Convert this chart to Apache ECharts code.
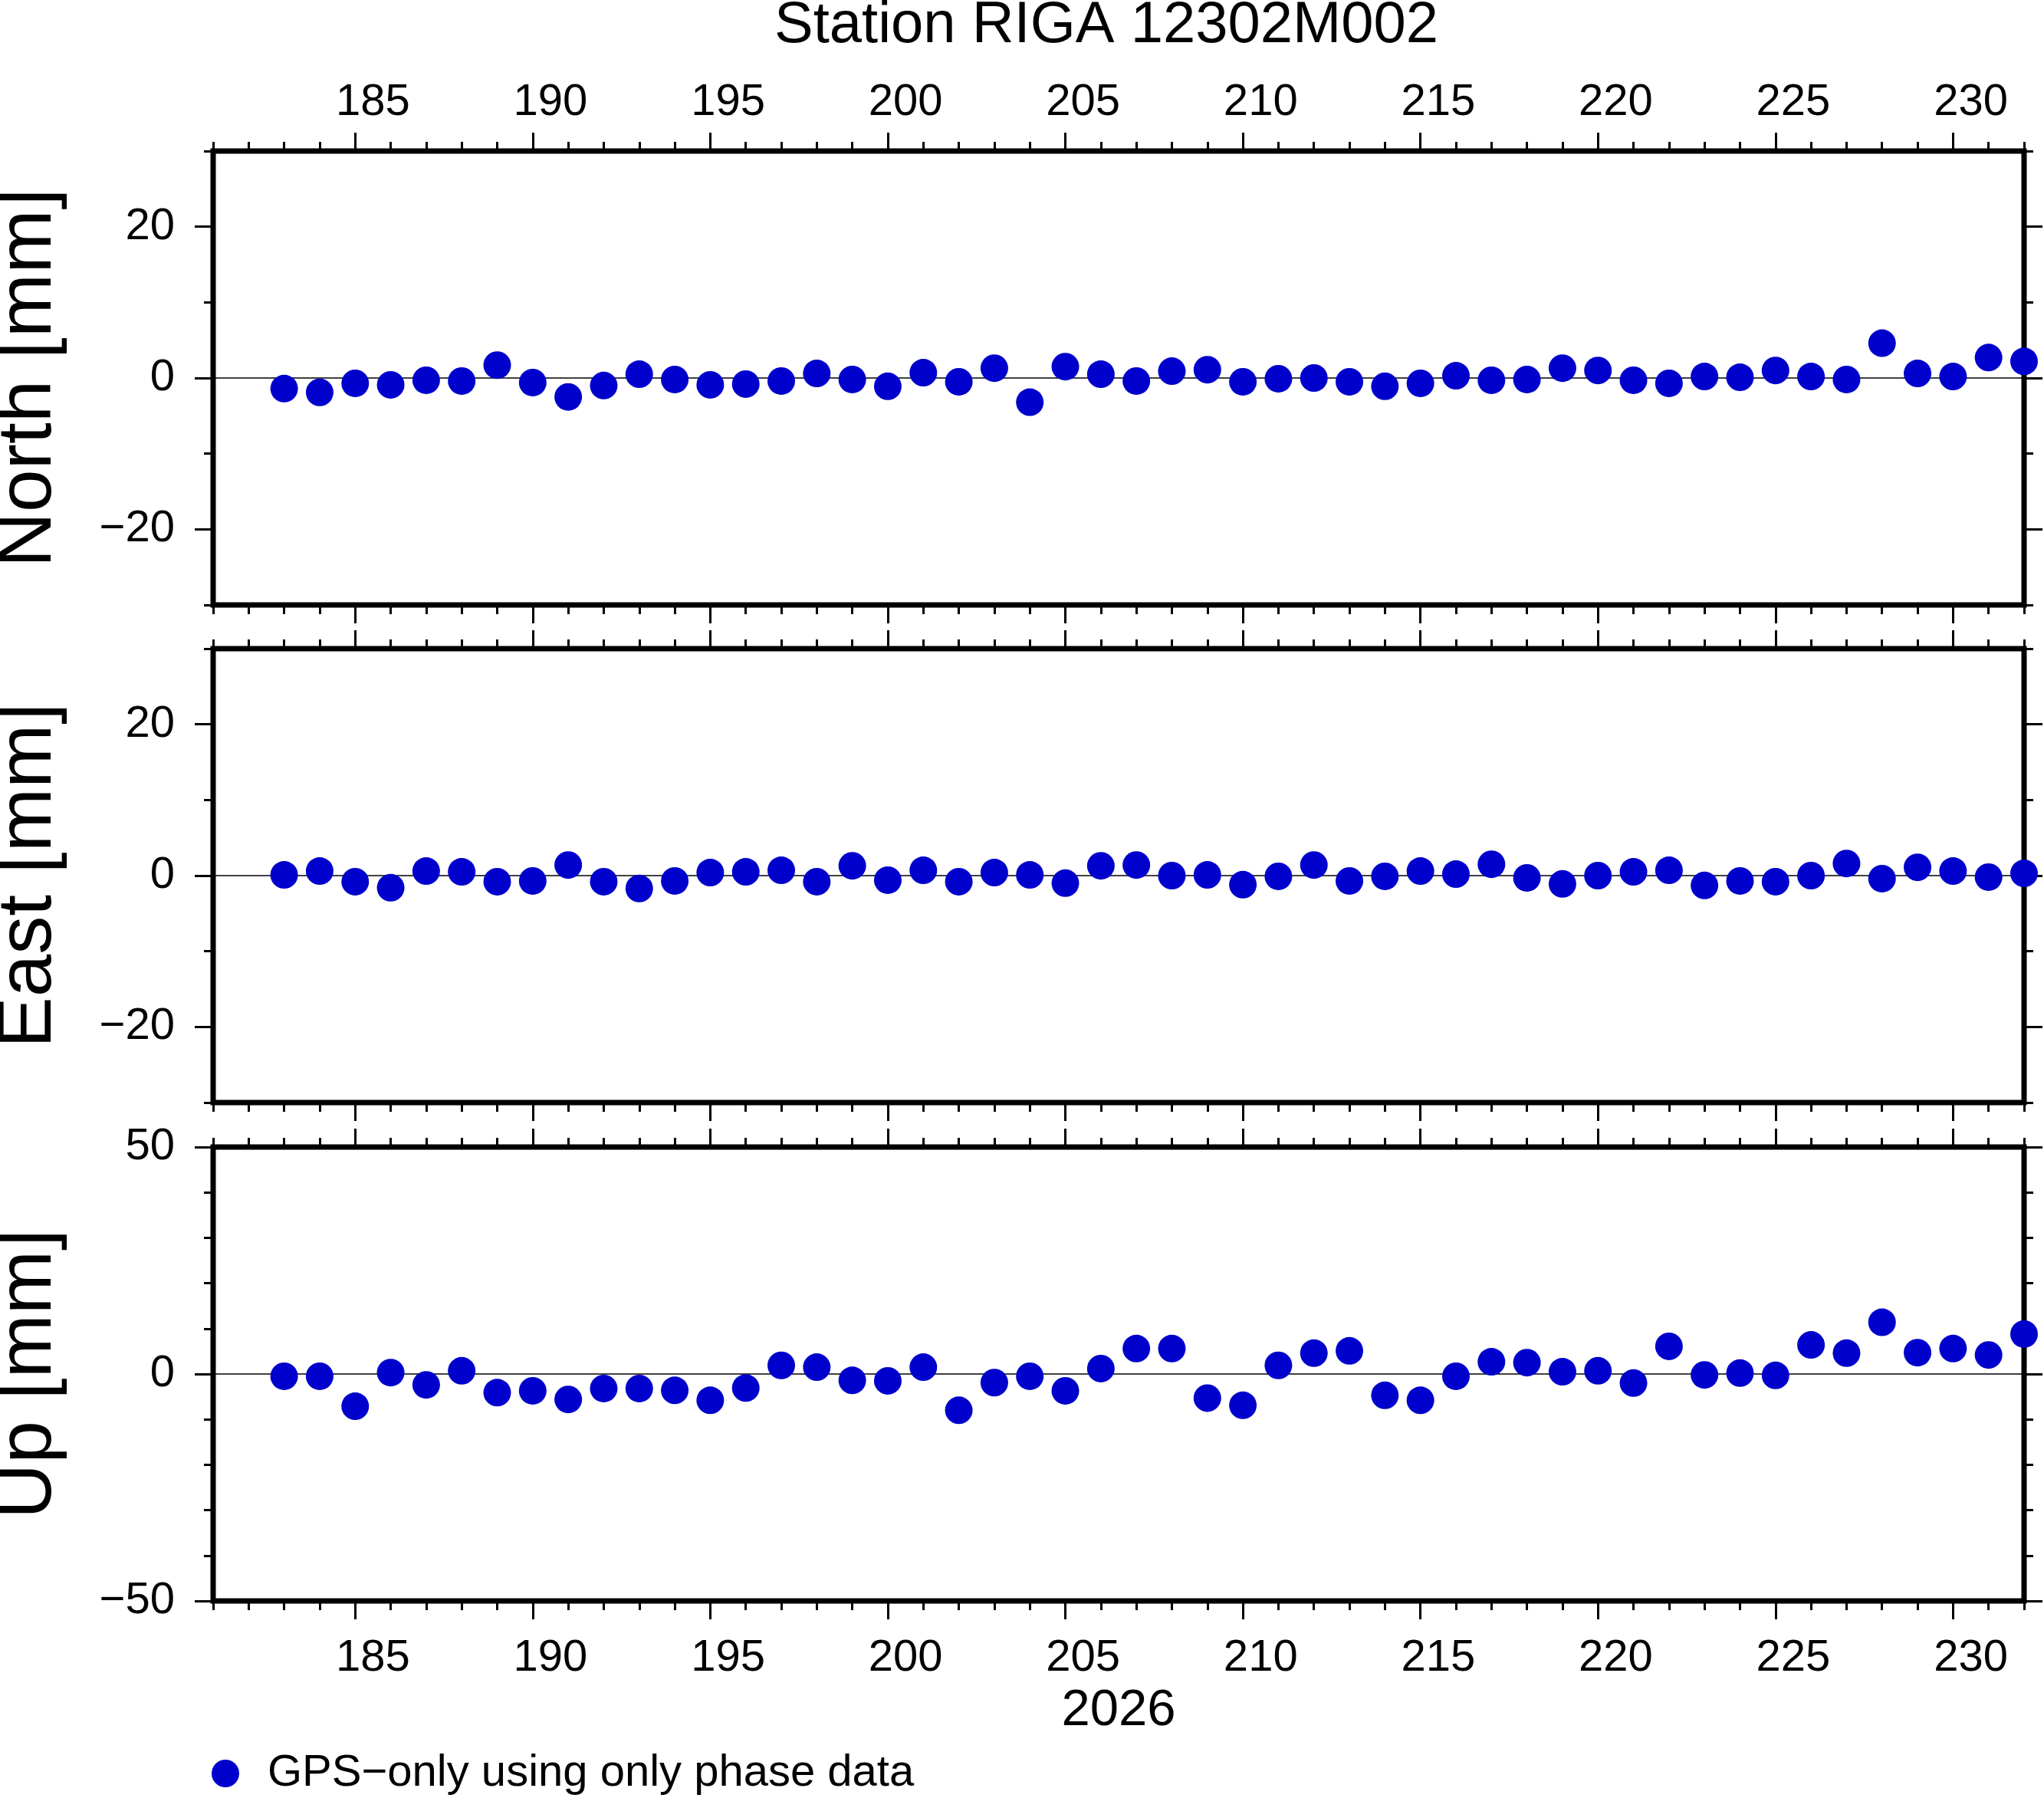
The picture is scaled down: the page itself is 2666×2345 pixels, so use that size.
<!DOCTYPE html>
<html>
<head>
<meta charset="utf-8">
<script src="https://cdn.jsdelivr.net/npm/echarts@6/dist/echarts.min.js"></script>
<style>
  html, body { margin: 0; padding: 0; background: #fff; }
  #main { width: 2666px; height: 2345px; }
</style>
</head>
<body>
<div id="main"></div>
<script>
// data (day of year 2026, mm)
var days = [183, 184, 185, 186, 187, 188, 189, 190, 191, 192, 193, 194, 195, 196, 197, 198, 199, 200, 201, 202, 203, 204, 205, 206, 207,
            208, 209, 210, 211, 212, 213, 214, 215, 216, 217, 218, 219, 220, 221, 222, 223, 224, 225, 226, 227, 228, 229, 230, 231, 232];
var north = [-1.4, -1.9, -0.7, -0.9, -0.3, -0.4, 1.7, -0.6, -2.5, -1.0, 0.5, -0.2, -0.9, -0.8, -0.4, 0.6, -0.2, -1.1, 0.7, -0.5, 1.3, -3.2, 1.5, 0.5, -0.4,
             0.9, 1.1, -0.5, -0.1, 0.0, -0.5, -1.1, -0.7, 0.3, -0.3, -0.2, 1.3, 1.0, -0.3, -0.7, 0.2, 0.1, 1.0, 0.2, -0.2, 4.6, 0.6, 0.2, 2.7, 2.2];
var east = [0.1, 0.6, -0.8, -1.6, 0.6, 0.5, -0.8, -0.7, 1.4, -0.8, -1.7, -0.7, 0.4, 0.5, 0.7, -0.8, 1.3, -0.6, 0.7, -0.8, 0.4, 0.1, -1.0, 1.3, 1.4,
            0.0, 0.1, -1.2, -0.1, 1.4, -0.7, -0.1, 0.6, 0.2, 1.5, -0.3, -1.1, 0.0, 0.5, 0.7, -1.3, -0.7, -0.8, 0.0, 1.6, -0.4, 1.1, 0.6, -0.2, 0.3];
var up = [-0.5, -0.5, -7.1, 0.3, -2.4, 0.7, -4.1, -3.7, -5.6, -3.2, -3.2, -3.6, -5.8, -3.1, 1.9, 1.5, -1.4, -1.5, 1.5, -8.0, -1.9, -0.5, -3.7, 1.2, 5.6,
          5.6, -5.3, -6.9, 1.9, 4.6, 5.1, -4.7, -5.8, -0.5, 2.7, 2.5, 0.5, 0.7, -2.0, 6.1, -0.2, 0.2, -0.3, 6.4, 4.6, 11.4, 4.7, 5.6, 4.2, 8.8];

var xMin = 181, xMax = 232;
var majorDays = [185, 190, 195, 200, 205, 210, 215, 220, 225, 230];
var neMajor = [-20, 0, 20];
var neMinor = [-30, -20, -10, 0, 10, 20, 30];
var upMajor = [-50, 0, 50];
var upMinor = [-50, -40, -30, -20, -10, 0, 10, 20, 30, 40, 50];

var panels = [
  { name: 'North [mm]', values: north, min: -30, max: 30, major: neMajor, minor: neMinor },
  { name: 'East [mm]', values: east, min: -30, max: 30, major: neMajor, minor: neMinor },
  { name: 'Up [mm]', values: up, min: -50, max: 50, major: upMajor, minor: upMinor }
];
var seriesName = 'GPS\u2212only using only phase data';
var font = 'Liberation Sans';

var minorDays = [];
for (var d = xMin; d <= xMax; d++) minorDays.push(d);
// GMT centres the day labels inside the day interval
var labelPos = majorDays.map(function (v) { return v + 0.5; });

function minus(v) { return v < 0 ? '\u2212' + (-v) : String(v); }

var tickStyle = { color: '#000', width: 3 };
var gridTops = [197, 846, 1496];

var grids = [], xAxes = [], yAxes = [], series = [];

panels.forEach(function (p, g) {
  grids.push({
    left: 278, top: gridTops[g], width: 2362, height: 592,
    containLabel: false, outerBoundsMode: 'none',
    show: true, borderColor: '#000', borderWidth: 7, backgroundColor: 'transparent'
  });

  function xAxis(pos, isMajor, showLabel, margin) {
    var ax = {
      type: 'value', gridIndex: g, position: pos, min: xMin, max: xMax,
      axisLine: { show: false, onZero: false },
      splitLine: { show: false },
      axisTick: { show: true, inside: false, length: isMajor ? 24 : 12, lineStyle: tickStyle,
                  customValues: isMajor ? majorDays : minorDays },
      axisLabel: { show: false }
    };
    if (showLabel) {
      ax.axisLabel = {
        show: true, customValues: labelPos, margin: margin,
        fontFamily: font, fontSize: 58, color: '#000',
        formatter: function (v) { return String(Math.round(v - 0.5)); }
      };
    }
    return ax;
  }
  var bottomMajor = xAxis('bottom', true, g === 2, 46);
  if (g === 2) {
    bottomMajor.name = '2026';
    bottomMajor.nameLocation = 'middle';
    bottomMajor.nameGap = 110;
    bottomMajor.nameTextStyle = { fontFamily: font, fontSize: 67, color: '#000' };
  }
  xAxes.push(xAxis('bottom', false, false), bottomMajor,
             xAxis('top', false, false), xAxis('top', true, g === 0, 34));

  function yAxis(pos, isMajor, showLabel) {
    var ax = {
      type: 'value', gridIndex: g, position: pos, min: p.min, max: p.max,
      axisLine: { show: false, onZero: false },
      splitLine: { show: false },
      axisTick: { show: true, inside: false, length: isMajor ? 24 : 12, lineStyle: tickStyle,
                  customValues: isMajor ? p.major : p.minor },
      axisLabel: { show: false }
    };
    if (showLabel) {
      ax.axisLabel = {
        show: true, customValues: p.major, margin: 50,
        fontFamily: font, fontSize: 58, color: '#000', formatter: minus
      };
      ax.name = p.name;
      ax.nameLocation = 'middle';
      ax.nameGap = 190;
      ax.nameTextStyle = { fontFamily: font, fontSize: 100, color: '#000' };
    }
    return ax;
  }
  yAxes.push(yAxis('left', false, false), yAxis('left', true, true),
             yAxis('right', false, false), yAxis('right', true, false));

  series.push({
    name: seriesName, type: 'scatter', z: 10,
    xAxisIndex: 4 * g, yAxisIndex: 4 * g + 1,
    symbol: 'circle', symbolSize: 36,
    itemStyle: { color: '#0000CC', opacity: 1 },
    data: days.map(function (day, i) { return [day, p.values[i]]; }),
    markLine: {
      silent: true, symbol: 'none', label: { show: false },
      lineStyle: { color: '#000', width: 1.5, type: 'solid' },
      data: [{ yAxis: 0 }]
    }
  });
});

var chart = echarts.init(document.getElementById('main'), null, { renderer: 'canvas' });
chart.setOption({
  animation: false,
  backgroundColor: '#fff',
  title: {
    text: 'Station RIGA 12302M002',
    left: 1005, top: -9,
    textStyle: { fontFamily: font, fontSize: 76, fontWeight: 'normal', color: '#000' }
  },
  legend: {
    data: [seriesName],
    left: 276, top: 2284, padding: 0,
    icon: 'circle', itemWidth: 36, itemHeight: 36,
    textStyle: { fontFamily: font, fontSize: 58, color: '#000', padding: [0, 0, 0, 32] }
  },
  grid: grids,
  xAxis: xAxes,
  yAxis: yAxes,
  series: series
});
</script>
</body>
</html>
